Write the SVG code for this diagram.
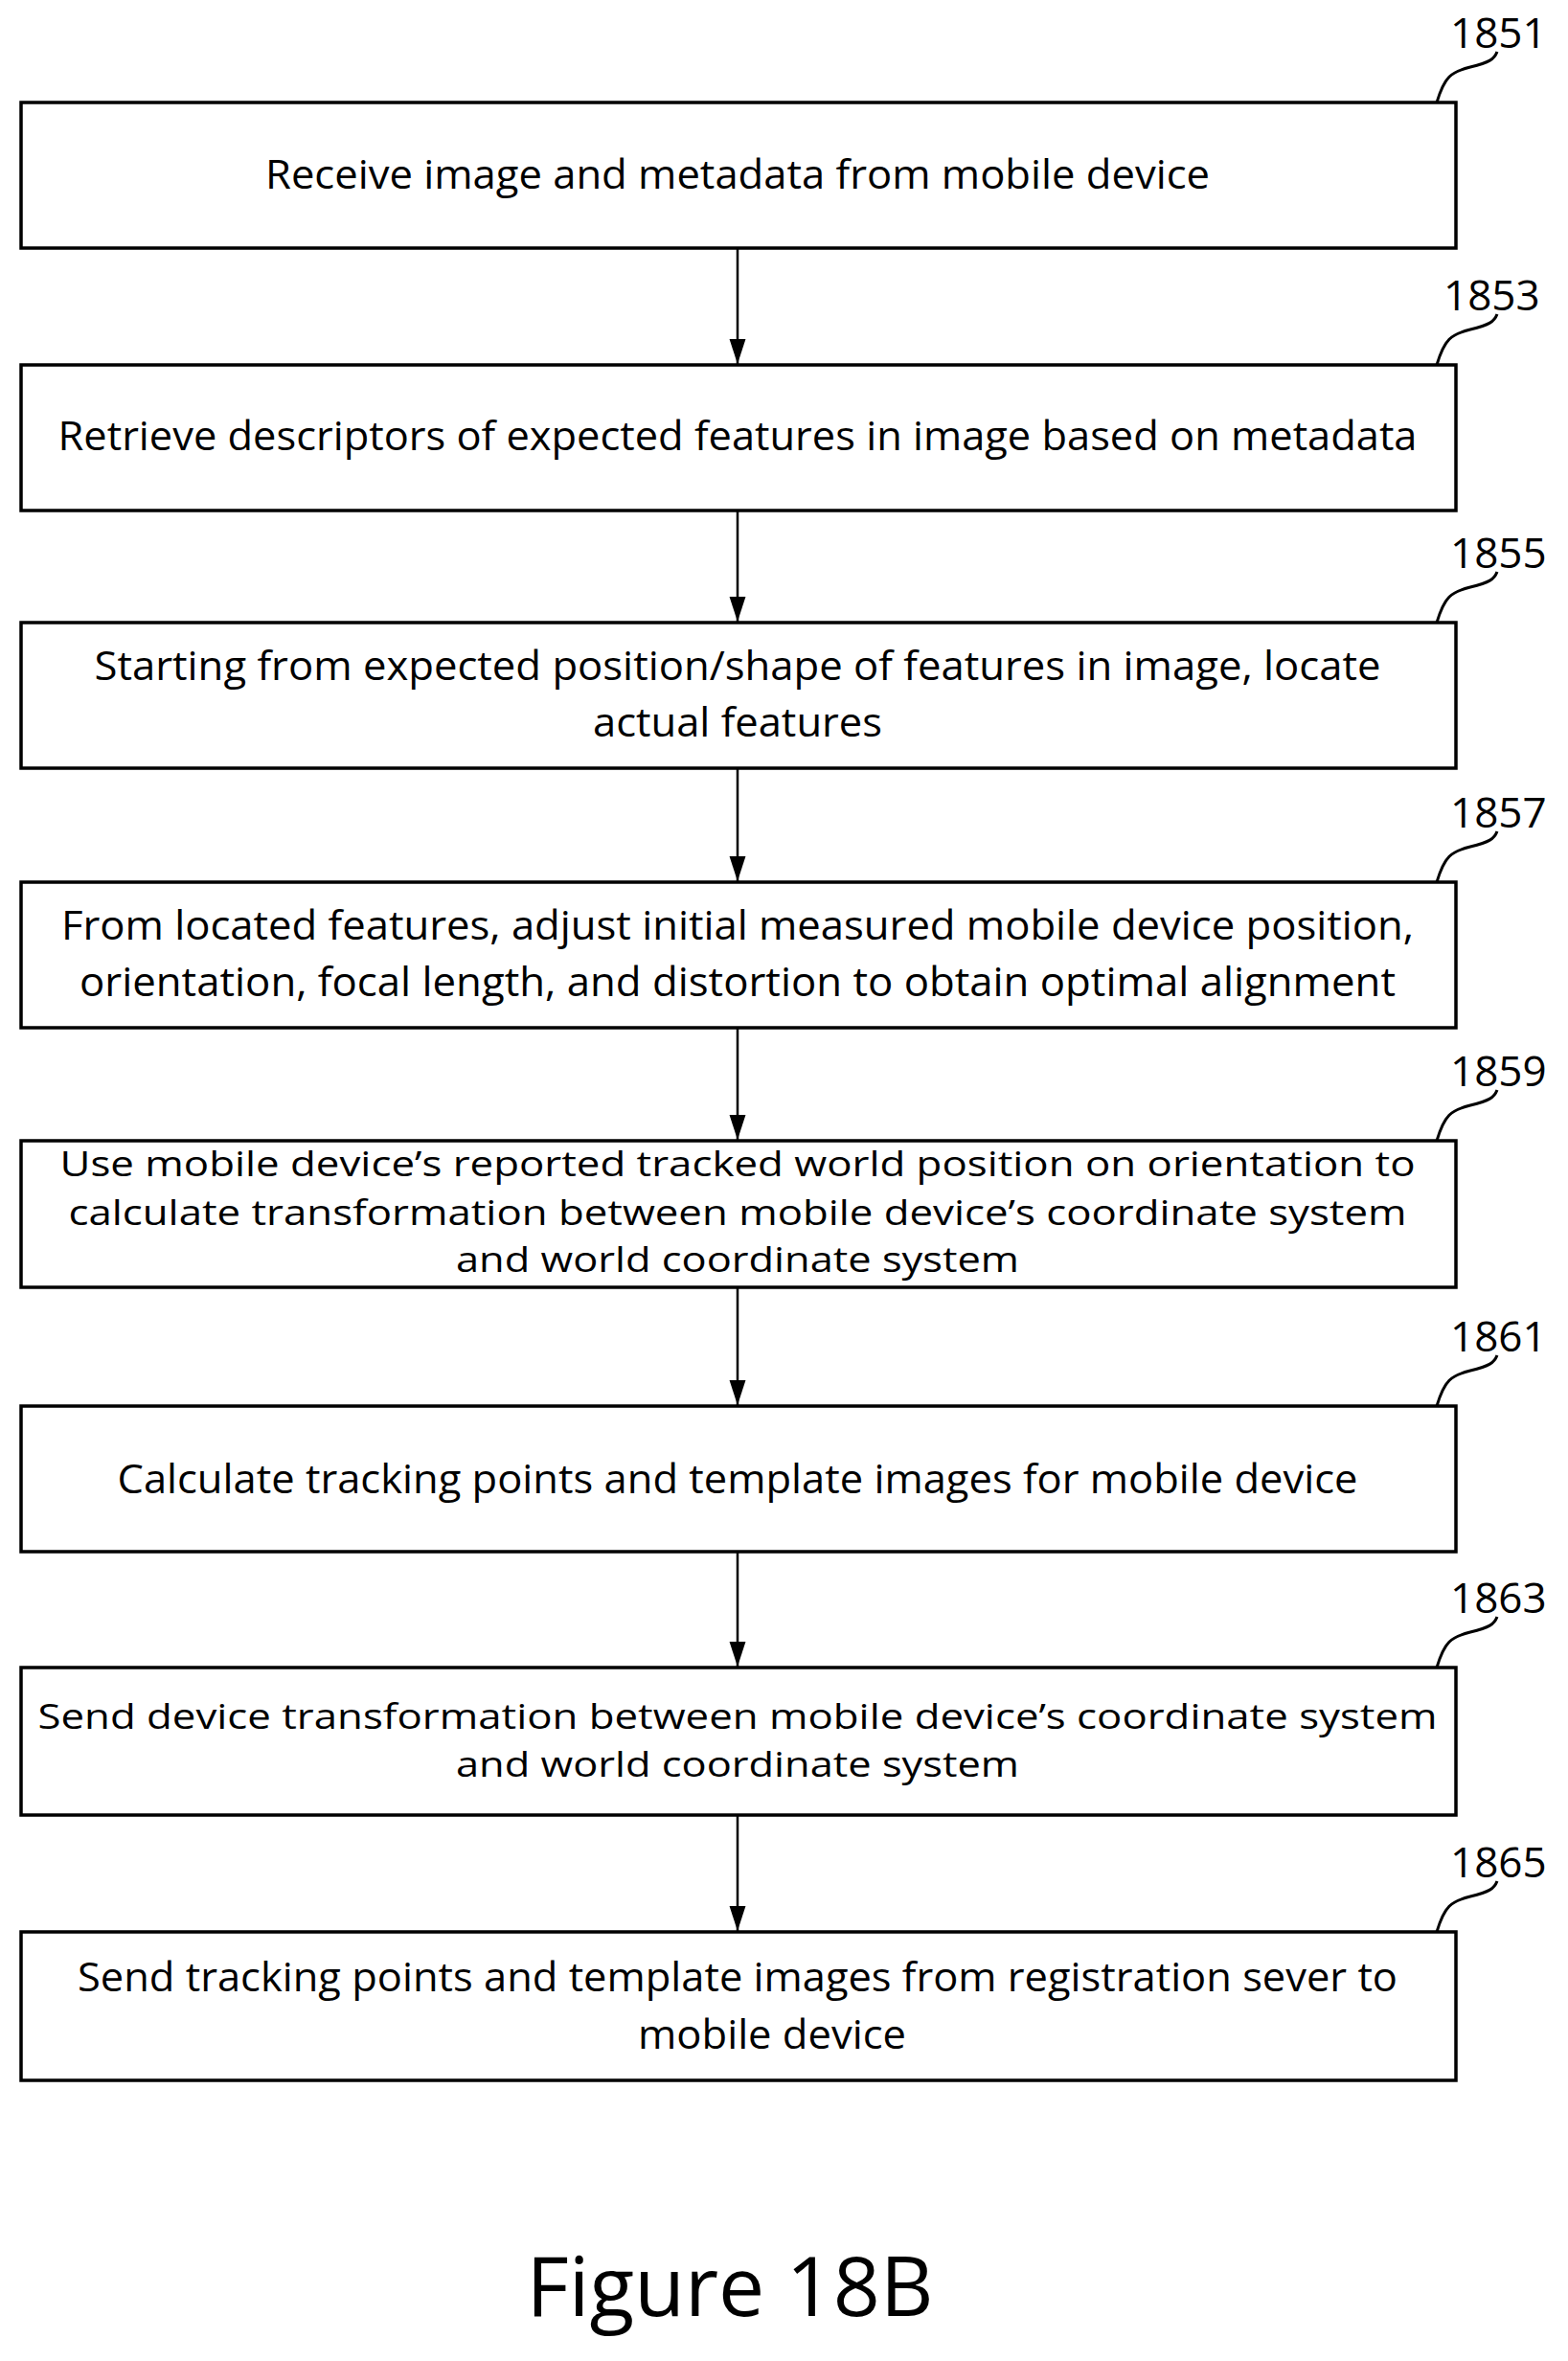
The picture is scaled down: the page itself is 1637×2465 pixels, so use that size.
<svg xmlns="http://www.w3.org/2000/svg" width="1637" height="2465" viewBox="0 0 1637 2465">
<style>
.box{fill:#fff;stroke:#000;stroke-width:3.5}
.t{font-family:"Open Sans","Liberation Sans",sans-serif;font-size:42px;text-anchor:middle;fill:#000}
.s{font-size:37px}
.lab{font-family:"Open Sans","Liberation Sans",sans-serif;font-size:44px;fill:#000}
.ld{fill:none;stroke:#000;stroke-width:3}
.c{stroke:#000;stroke-width:2.5;fill:none}
</style>
<defs><marker id="a" markerWidth="26" markerHeight="40" refX="40" refY="13" orient="auto" markerUnits="userSpaceOnUse" viewBox="0 0 40 26"><path d="M0,0 L40,13 L0,26 Z" fill="#000"/></marker></defs>
<g id="connectors">
<line class="c" x1="770" y1="259" x2="770" y2="380" marker-end="url(#a)"/>
<line class="c" x1="770" y1="533" x2="770" y2="649" marker-end="url(#a)"/>
<line class="c" x1="770" y1="802" x2="770" y2="920" marker-end="url(#a)"/>
<line class="c" x1="770" y1="1073" x2="770" y2="1190" marker-end="url(#a)"/>
<line class="c" x1="770" y1="1344" x2="770" y2="1467" marker-end="url(#a)"/>
<line class="c" x1="770" y1="1620" x2="770" y2="1740" marker-end="url(#a)"/>
<line class="c" x1="770" y1="1895" x2="770" y2="2016" marker-end="url(#a)"/>
</g>
<g id="n1851"><rect class="box" x="22" y="107" width="1498" height="152"/><text class="t" x="770" y="197" textLength="986" lengthAdjust="spacingAndGlyphs">Receive image and metadata from mobile device</text><path class="ld" d="M1500,107 C1508,80 1515,75 1535,70 S1560,62 1563,54"/><text class="lab" x="1514" y="50">1851</text></g>
<g id="n1853"><rect class="box" x="22" y="381" width="1498" height="152"/><text class="t" x="770" y="470" textLength="1419" lengthAdjust="spacingAndGlyphs">Retrieve descriptors of expected features in image based on metadata</text><path class="ld" d="M1500,381 C1508,354 1515,349 1535,344 S1560,336 1563,328"/><text class="lab" x="1507" y="324">1853</text></g>
<g id="n1855"><rect class="box" x="22" y="650" width="1498" height="152"/><text class="t" x="770" y="710" textLength="1343" lengthAdjust="spacingAndGlyphs">Starting from expected position/shape of features in image, locate</text><text class="t" x="770" y="769" textLength="302" lengthAdjust="spacingAndGlyphs">actual features</text><path class="ld" d="M1500,650 C1508,623 1515,618 1535,613 S1560,605 1563,597"/><text class="lab" x="1514" y="593">1855</text></g>
<g id="n1857"><rect class="box" x="22" y="921" width="1498" height="152"/><text class="t" x="770" y="981" textLength="1412" lengthAdjust="spacingAndGlyphs">From located features, adjust initial measured mobile device position,</text><text class="t" x="770" y="1040" textLength="1374" lengthAdjust="spacingAndGlyphs">orientation, focal length, and distortion to obtain optimal alignment</text><path class="ld" d="M1500,921 C1508,894 1515,889 1535,884 S1560,876 1563,868"/><text class="lab" x="1514" y="864">1857</text></g>
<g id="n1859"><rect class="box" x="22" y="1191" width="1498" height="153"/><text class="t s" x="770" y="1228" textLength="1415" lengthAdjust="spacingAndGlyphs">Use mobile device’s reported tracked world position on orientation to</text><text class="t s" x="770" y="1279" textLength="1397" lengthAdjust="spacingAndGlyphs">calculate transformation between mobile device’s coordinate system</text><text class="t s" x="770" y="1328" textLength="588" lengthAdjust="spacingAndGlyphs">and world coordinate system</text><path class="ld" d="M1500,1191 C1508,1164 1515,1159 1535,1154 S1560,1146 1563,1138"/><text class="lab" x="1514" y="1134">1859</text></g>
<g id="n1861"><rect class="box" x="22" y="1468" width="1498" height="152"/><text class="t" x="770" y="1559" textLength="1295" lengthAdjust="spacingAndGlyphs">Calculate tracking points and template images for mobile device</text><path class="ld" d="M1500,1468 C1508,1441 1515,1436 1535,1431 S1560,1423 1563,1415"/><text class="lab" x="1514" y="1411">1861</text></g>
<g id="n1863"><rect class="box" x="22" y="1741" width="1498" height="154"/><text class="t s" x="770" y="1805" textLength="1461" lengthAdjust="spacingAndGlyphs">Send device transformation between mobile device’s coordinate system</text><text class="t s" x="770" y="1855" textLength="588" lengthAdjust="spacingAndGlyphs">and world coordinate system</text><path class="ld" d="M1500,1741 C1508,1714 1515,1709 1535,1704 S1560,1696 1563,1688"/><text class="lab" x="1514" y="1684">1863</text></g>
<g id="n1865"><rect class="box" x="22" y="2017" width="1498" height="155"/><text class="t" x="770" y="2079" textLength="1378" lengthAdjust="spacingAndGlyphs">Send tracking points and template images from registration sever to</text><text class="t" x="806" y="2139" textLength="280" lengthAdjust="spacingAndGlyphs">mobile device</text><path class="ld" d="M1500,2017 C1508,1990 1515,1985 1535,1980 S1560,1972 1563,1964"/><text class="lab" x="1514" y="1960">1865</text></g>
<text x="762" y="2418" font-family="Open Sans, Liberation Sans, sans-serif" font-size="86" text-anchor="middle" textLength="425" lengthAdjust="spacingAndGlyphs">Figure 18B</text>
</svg>
